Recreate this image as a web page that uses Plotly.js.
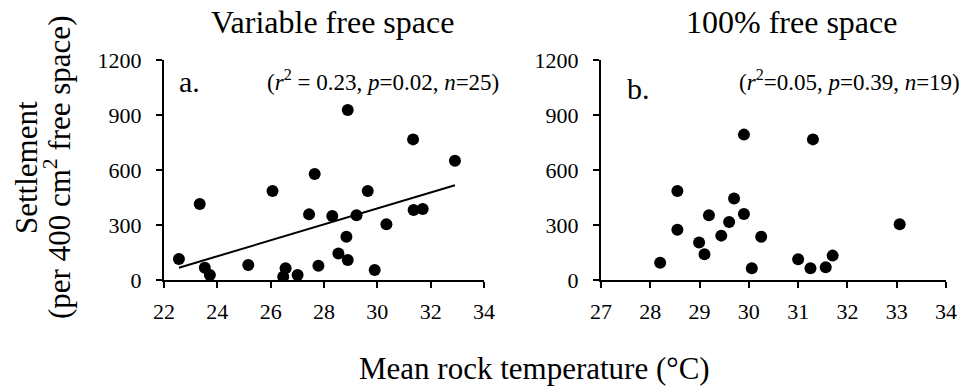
<!DOCTYPE html>
<html>
<head>
<meta charset="utf-8">
<script src="https://cdn.plot.ly/plotly-3.0.1.min.js"></script>
<style>html,body{margin:0;padding:0;background:#fff;}#chart{width:973px;height:392px;}</style>
</head>
<body>
<div id="chart"></div>
<script>
// Panel a: variable free space
const tempA = [22.56, 23.34, 23.53, 23.72, 25.16, 26.07, 26.47, 26.56, 27.01, 27.44, 27.65, 27.79, 28.31, 28.54, 28.89, 28.84, 28.89, 29.22, 29.64, 29.90, 30.34, 31.34, 31.36, 31.70, 32.91];
const settleA = [115, 414, 67, 27, 82, 485, 18, 64, 27, 358, 578, 78, 349, 145, 927, 236, 109, 353, 485, 55, 304, 767, 382, 387, 651];
// Panel b: 100% free space
const tempB = [28.20, 28.55, 28.55, 28.99, 29.10, 29.19, 29.44, 29.60, 29.70, 29.90, 29.90, 30.06, 30.25, 31.00, 31.25, 31.30, 31.56, 31.70, 33.06];
const settleB = [94, 485, 274, 204, 140, 353, 242, 316, 444, 793, 360, 64, 236, 113, 64, 767, 69, 133, 304];

const yTicks = [0, 300, 600, 900, 1200];
const xTicksA = [22, 24, 26, 28, 30, 32, 34];
const xTicksB = [27, 28, 29, 30, 31, 32, 33, 34];

const titleA = 'Variable free space';
const titleB = '100% free space';
const statsA = '(<i>r</i><sup>2</sup> = 0.23, <i>p</i>=0.02, <i>n</i>=25)';
const statsB = '(<i>r</i><sup>2</sup>=0.05, <i>p</i>=0.39, <i>n</i>=19)';
const xTitle = 'Mean rock temperature (°C)';
const yTitleLine1 = 'Settlement';
const yTitleLine2 = '(per 400 cm<sup>2</sup> free space)';

// least-squares fit for panel a
function fit(xs, ys) {
  const n = xs.length;
  const mx = xs.reduce((a, b) => a + b, 0) / n;
  const my = ys.reduce((a, b) => a + b, 0) / n;
  let sxy = 0, sxx = 0;
  for (let i = 0; i < n; i++) { sxy += (xs[i] - mx) * (ys[i] - my); sxx += (xs[i] - mx) ** 2; }
  const b = sxy / sxx;
  return { a: my - b * mx, b };
}
const f = fit(tempA, settleA);
const xmin = Math.min(...tempA), xmax = Math.max(...tempA);
const trendX = [xmin, xmax];
const trendY = trendX.map(x => f.a + f.b * x);

const W = 973, H = 392;
const px = x => x / W;
const py = y => 1 - y / H;

const FONT = 'Liberation Serif, Times New Roman, serif';

const markerStyle = { color: '#000', size: 12, symbol: 'circle' };

const data = [
  { x: tempA, y: settleA, type: 'scatter', mode: 'markers', marker: markerStyle, xaxis: 'x', yaxis: 'y', hoverinfo: 'skip' },
  { x: trendX, y: trendY, type: 'scatter', mode: 'lines', line: { color: '#000', width: 2 }, xaxis: 'x', yaxis: 'y', hoverinfo: 'skip' },
  { x: tempB, y: settleB, type: 'scatter', mode: 'markers', marker: markerStyle, xaxis: 'x2', yaxis: 'y2', hoverinfo: 'skip' }
];

function axis(extra) {
  return Object.assign({
    showgrid: false, zeroline: false, showline: true, linecolor: '#000', linewidth: 2,
    ticks: 'outside', ticklen: 6, tickwidth: 2, tickcolor: '#000',
    tickmode: 'array',
    tickfont: { family: FONT, size: 22, color: '#000' }, fixedrange: true
  }, extra);
}

const yDom = [py(280), py(60)];

const layout = {
  width: W, height: H,
  margin: { l: 0, r: 0, t: 0, b: 0 },
  paper_bgcolor: '#fff', plot_bgcolor: '#fff',
  showlegend: false,
  font: { family: FONT, size: 22, color: '#000' },
  xaxis: axis({ domain: [px(164), px(484)], range: [22, 34], tickvals: xTicksA, ticktext: xTicksA.map(String), anchor: 'y', ticklabelstandoff: 5 }),
  yaxis: axis({ domain: yDom, range: [0, 1200], tickvals: yTicks, ticktext: yTicks.map(String), anchor: 'x', ticklabelstandoff: 10 }),
  xaxis2: axis({ domain: [px(601), px(946)], range: [27, 34], tickvals: xTicksB, ticktext: xTicksB.map(String), anchor: 'y2', ticklabelstandoff: 5 }),
  yaxis2: axis({ domain: yDom, range: [0, 1200], tickvals: yTicks, ticktext: yTicks.map(String), anchor: 'x2', ticklabelstandoff: 10 }),
  annotations: [
    { text: titleA, xref: 'paper', yref: 'paper', x: px(332), y: py(22), xanchor: 'center', yanchor: 'middle', showarrow: false, font: { family: FONT, size: 32, color: '#000' } },
    { text: titleB, xref: 'paper', yref: 'paper', x: px(791), y: py(22), xanchor: 'center', yanchor: 'middle', showarrow: false, font: { family: FONT, size: 32, color: '#000' } },
    { text: 'a.', xref: 'paper', yref: 'paper', x: px(177), y: py(82), xanchor: 'left', yanchor: 'middle', showarrow: false, font: { family: FONT, size: 30, color: '#000' } },
    { text: 'b.', xref: 'paper', yref: 'paper', x: px(625), y: py(88), xanchor: 'left', yanchor: 'middle', showarrow: false, font: { family: FONT, size: 30, color: '#000' } },
    { text: statsA, xref: 'paper', yref: 'paper', x: px(265), y: py(80), xanchor: 'left', yanchor: 'middle', showarrow: false, font: { family: FONT, size: 23, color: '#000' } },
    { text: statsB, xref: 'paper', yref: 'paper', x: px(737), y: py(80), xanchor: 'left', yanchor: 'middle', showarrow: false, font: { family: FONT, size: 23, color: '#000' } },
    { text: xTitle, xref: 'paper', yref: 'paper', x: px(534), y: py(368), xanchor: 'center', yanchor: 'middle', showarrow: false, font: { family: FONT, size: 31, color: '#000' } },
    { text: yTitleLine1, xref: 'paper', yref: 'paper', x: px(26), y: py(168), xanchor: 'center', yanchor: 'middle', textangle: -90, showarrow: false, font: { family: FONT, size: 31, color: '#000' } },
    { text: yTitleLine2, xref: 'paper', yref: 'paper', x: px(57), y: py(168), xanchor: 'center', yanchor: 'middle', textangle: -90, showarrow: false, font: { family: FONT, size: 31, color: '#000' } }
  ]
};

Plotly.newPlot('chart', data, layout, { staticPlot: true, displayModeBar: false });
</script>
</body>
</html>
